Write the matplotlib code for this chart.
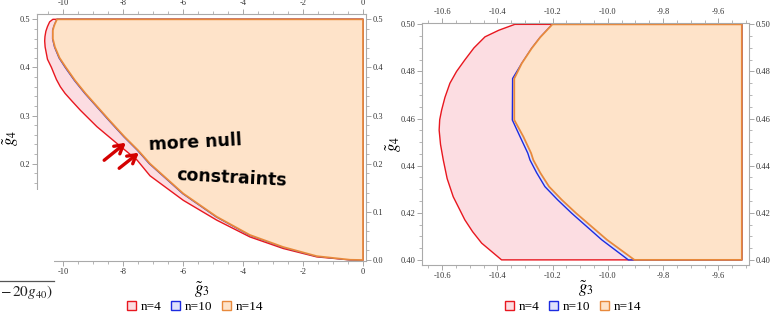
import numpy as np
import matplotlib.pyplot as plt
from matplotlib.patches import Polygon, Patch, Rectangle, FancyArrowPatch
from matplotlib.lines import Line2D
from matplotlib.ticker import MultipleLocator, FormatStrFormatter

plt.rcParams['font.family'] = ['Liberation Serif', 'DejaVu Serif']
plt.rcParams['mathtext.fontset'] = 'stix'

# ---- boundary of the allowed region, full view (g3 as a function of g4) ----
g4_n4_full = [0.0, 0.0005, 0.0065, 0.024, 0.048, 0.083, 0.124, 0.175, 0.2075, 0.242, 0.277,
              0.311, 0.33, 0.346, 0.36, 0.375, 0.39, 0.40, 0.417, 0.4424, 0.4551, 0.464,
              0.475, 0.4849, 0.4947, 0.5]
g3_n4_full = [0.0, -0.45, -1.54, -2.66, -3.77, -4.88, -5.99, -7.1, -7.53, -8.2, -8.87,
              -9.42, -9.7, -9.93, -10.09, -10.22, -10.32, -10.385, -10.518, -10.596, -10.611, -10.602,
              -10.572, -10.518, -10.445, -10.337]

g4_n10_full = [0.0, 0.0005, 0.008, 0.027, 0.052, 0.09, 0.138, 0.2, 0.228, 0.256, 0.29, 0.318,
               0.346, 0.373, 0.40, 0.4198, 0.4424, 0.4594, 0.477, 0.4834, 0.4898, 0.5]
g3_n10_full = [0.0, -0.44, -1.56, -2.68, -3.79, -4.9, -6.01, -7.12, -7.52, -7.97, -8.47, -8.87,
               -9.27, -9.62, -9.926, -10.131, -10.282, -10.346, -10.345, -10.312, -10.276, -10.201]

g4_n14_full = [0.0, 0.0005, 0.008, 0.027, 0.052, 0.09, 0.138, 0.2, 0.228, 0.256, 0.29, 0.318,
               0.346, 0.373, 0.40, 0.4198, 0.4424, 0.4594, 0.477, 0.4834, 0.4898, 0.5]
g3_n14_full = [0.0, -0.43, -1.54, -2.66, -3.77, -4.88, -5.99, -7.1, -7.5, -7.95, -8.45, -8.85,
               -9.25, -9.6, -9.904, -10.115, -10.27, -10.339, -10.339, -10.312, -10.276, -10.201]

# ---- zoomed view, g4 in [0.40, 0.50] ----
g4_n4_zoom = [0.40, 0.4071, 0.412, 0.417, 0.4268, 0.4345, 0.4424, 0.449, 0.4551, 0.4595, 0.4636,
              0.469, 0.475, 0.48, 0.4849, 0.49, 0.4947, 0.4975, 0.50]
g3_n4_zoom = [-10.385, -10.457, -10.49, -10.518, -10.56, -10.582, -10.596, -10.606, -10.611, -10.609, -10.602,
              -10.59, -10.572, -10.548, -10.518, -10.485, -10.445, -10.395, -10.337]

g4_n10_zoom = [0.40, 0.4085, 0.4198, 0.4255, 0.4311, 0.437, 0.4424, 0.4453, 0.4523, 0.4594, 0.477,
               0.4834, 0.4898, 0.4945, 0.50]
g3_n10_zoom = [-9.926, -10.022, -10.131, -10.182, -10.228, -10.258, -10.282, -10.29, -10.318, -10.346, -10.345,
               -10.312, -10.276, -10.245, -10.201]

g4_n14_zoom = [0.40, 0.4085, 0.4198, 0.4255, 0.4311, 0.437, 0.4424, 0.4453, 0.4523, 0.4594, 0.477,
               0.4834, 0.4898, 0.4945, 0.50]
g3_n14_zoom = [-9.904, -10.003, -10.115, -10.167, -10.213, -10.245, -10.27, -10.278, -10.306, -10.339, -10.339,
               -10.312, -10.276, -10.245, -10.201]

labels = ['n=4', 'n=10', 'n=14']
edge_colors = ['#e8171f', '#1c2be0', '#e8893b']
face_colors = ['#fcdde2', '#dfe2fb', '#fee3c9']
line_widths = [1.0, 1.0, 1.3]

full_view = [(g3_n4_full, g4_n4_full), (g3_n10_full, g4_n10_full), (g3_n14_full, g4_n14_full)]
zoom_view = [(g3_n4_zoom, g4_n4_zoom), (g3_n10_zoom, g4_n10_zoom), (g3_n14_zoom, g4_n14_zoom)]
g3_max_full = 0.0
g3_max_zoom = -9.515

W, H = 775, 320
fig = plt.figure(figsize=(W / 100, H / 100), dpi=100)


def px_axes(x0, y0, x1, y1):
    return fig.add_axes([x0 / W, 1 - y1 / H, (x1 - x0) / W, (y1 - y0) / H])


def draw_regions(ax, view, g3_max):
    for (g3, g4), ec, fc, lw in zip(view, edge_colors, face_colors, line_widths):
        pts = list(zip(g3, g4))
        pts += [(g3_max, g4[-1]), (g3_max, g4[0])]
        ax.add_patch(Polygon(pts, closed=True, facecolor=fc, edgecolor=ec,
                             linewidth=lw, joinstyle='round'))


def style_axes(ax, xmaj, xmin, ymaj, ymin, xfmt, yfmt):
    ax.xaxis.set_major_locator(MultipleLocator(xmaj))
    ax.xaxis.set_minor_locator(MultipleLocator(xmin))
    ax.yaxis.set_major_locator(MultipleLocator(ymaj))
    ax.yaxis.set_minor_locator(MultipleLocator(ymin))
    ax.xaxis.set_major_formatter(FormatStrFormatter(xfmt))
    ax.yaxis.set_major_formatter(FormatStrFormatter(yfmt))
    ax.tick_params(which='both', direction='out', top=True, right=True,
                   labeltop=True, labelright=True, color='#999999',
                   labelsize=6, labelcolor='#333333', pad=1.5)
    ax.tick_params(which='major', length=3.5, width=0.6)
    ax.tick_params(which='minor', length=2, width=0.5)
    for s in ax.spines.values():
        s.set_color('#aaaaaa')
        s.set_linewidth(0.8)


# left panel: full region
ax1 = px_axes(37, 14, 366, 261)
draw_regions(ax1, full_view, g3_max_full)
ax1.set_xlim(-10.867, 0.1)
ax1.set_ylim(-0.002, 0.511)
style_axes(ax1, 2, 0.5, 0.1, 0.02, '%d', '%.1f')
ax1.set_xlabel(r'$\tilde{g}_3$', fontsize=12)
ax1.set_ylabel(r'$\tilde{g}_4$', fontsize=12)
ax1.xaxis.set_label_coords(0.5, -0.075)
ax1.yaxis.set_label_coords(-0.05, 0.5)

# right panel: zoom on the tip
ax2 = px_axes(422.3, 22.7, 749, 265.3)
draw_regions(ax2, zoom_view, g3_max_zoom)
ax2.set_xlim(-10.672, -9.489)
ax2.set_ylim(0.3977, 0.5007)
style_axes(ax2, 0.2, 0.05, 0.02, 0.005, '%.1f', '%.2f')
ax2.set_xlabel(r'$\tilde{g}_3$', fontsize=12)
ax2.set_ylabel(r'$\tilde{g}_4$', fontsize=12)
ax2.xaxis.set_label_coords(0.5, -0.058)
ax2.yaxis.set_label_coords(-0.055, 0.5)

# legends
handles = [Patch(facecolor=fc, edgecolor=ec, linewidth=1.0, label=lb)
           for lb, ec, fc in zip(labels, edge_colors, face_colors)]
for cx in (195, 573):
    fig.legend(handles=handles, loc='center', bbox_to_anchor=(cx / W, 1 - 307 / H),
               ncol=3, frameon=False, fontsize=9.5, handlelength=0.7, handleheight=0.7,
               handletextpad=0.35, columnspacing=0.7, borderpad=0)

# handwritten note and arrows on the left panel
fig.text(195 / W, 1 - 143 / H, 'more null', fontsize=12.5, fontweight='bold',
         family='DejaVu Sans', ha='center', va='center', color='black', rotation=3)
fig.text(232 / W, 1 - 178 / H, 'constraints', fontsize=12.5, fontweight='bold',
         family='DejaVu Sans', ha='center', va='center', color='black', rotation=-3)
for (x0, y0), (x1, y1) in [((102, 162), (128, 141)), ((117, 170), (141, 151))]:
    fig.add_artist(FancyArrowPatch(
        (x0 / W, 1 - y0 / H), (x1 / W, 1 - y1 / H), transform=fig.transFigure,
        arrowstyle='->,head_length=6,head_width=3.5', color='#d40000', lw=2.4,
        capstyle='round', zorder=7))

# piece of a neighbouring figure cut into the lower left corner
fig.add_artist(Rectangle((0, 0), 54 / W, (H - 190) / H, transform=fig.transFigure,
                         facecolor='white', edgecolor='none', zorder=5))
fig.add_artist(Line2D([0, 54 / W], [1 - 281 / H, 1 - 281 / H], transform=fig.transFigure,
                      color='#555555', lw=0.9, zorder=6))
fig.text(53 / W, 1 - 292 / H, r'$-\,20g_{40})$', fontsize=11, ha='right', va='center',
         zorder=6, color='#222222')

fig.savefig('out.png', dpi=100)
